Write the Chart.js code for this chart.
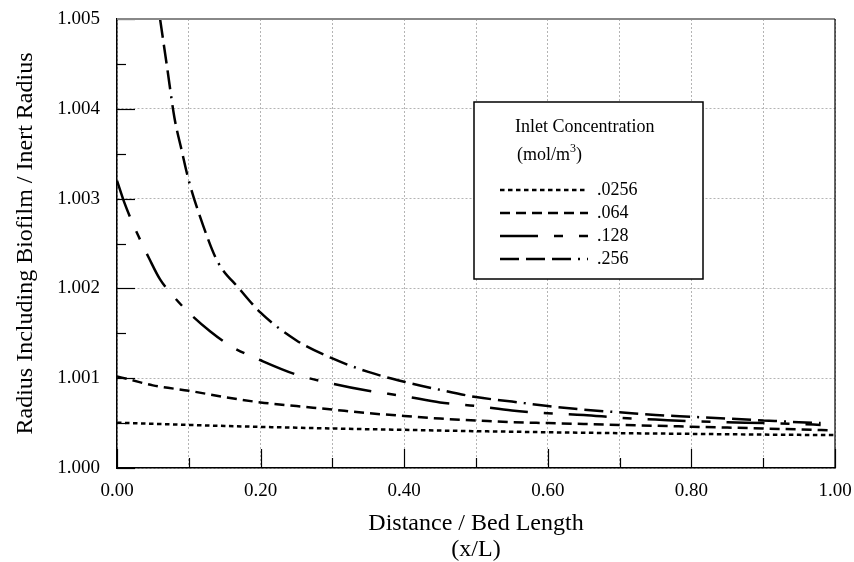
<!DOCTYPE html>
<html>
<head>
<meta charset="utf-8">
<script src="https://cdn.jsdelivr.net/npm/chart.js@4.4.1/dist/chart.umd.min.js"></script>
<style>
  html, body { margin: 0; padding: 0; background: #fff; }
  canvas { display: block; }
</style>
</head>
<body>
<canvas id="chart" width="854" height="562"></canvas>
<script>
// --- DATA ---
const seriesLabels = ['.0256', '.064', '.128', '.256'];

const x0256 = [0, 0.05, 0.1, 0.15, 0.2, 0.25, 0.3, 0.35, 0.4, 0.45, 0.5, 0.55, 0.6, 0.65, 0.7, 0.75, 0.8, 0.85, 0.9, 0.95, 1.0];
const y0256 = [1.000505, 1.000492, 1.00048, 1.000468, 1.000458, 1.000449, 1.00044, 1.000432, 1.000425, 1.000417, 1.00041, 1.000404, 1.000398, 1.000393, 1.000388, 1.000384, 1.00038, 1.000376, 1.000372, 1.000369, 1.000366];

const x064 = [0, 0.02, 0.05, 0.1, 0.15, 0.2, 0.25, 0.3, 0.35, 0.4, 0.45, 0.5, 0.55, 0.6, 0.65, 0.7, 0.75, 0.8, 0.85, 0.9, 0.95, 0.99];
const y064 = [1.00102, 1.00098, 1.00092, 1.00086, 1.00079, 1.00073, 1.00069, 1.00065, 1.00061, 1.00058, 1.00055, 1.00053, 1.00051, 1.0005, 1.00049, 1.00048, 1.00047, 1.00046, 1.00045, 1.00044, 1.00043, 1.00042];

const x128 = [0, 0.01, 0.02, 0.03, 0.045, 0.06, 0.08, 0.1, 0.13, 0.16, 0.2, 0.25, 0.3, 0.35, 0.4, 0.45, 0.5, 0.55, 0.6, 0.65, 0.7, 0.75, 0.8, 0.85, 0.9, 0.95, 0.98];
const y128 = [1.0032, 1.00296, 1.00276, 1.00258, 1.00233, 1.0021, 1.0019, 1.00173, 1.00152, 1.00135, 1.0012, 1.00104, 1.00094, 1.00086, 1.0008, 1.00073, 1.00069, 1.00064, 1.00061, 1.00059, 1.00056, 1.00054, 1.00052, 1.00051, 1.0005, 1.00049, 1.00048];

const x256 = [0.06, 0.07, 0.08, 0.09, 0.1, 0.12, 0.14, 0.17, 0.2, 0.25, 0.3, 0.35, 0.4, 0.45, 0.5, 0.55, 0.6, 0.65, 0.7, 0.75, 0.8, 0.85, 0.9, 0.95, 0.98];
const y256 = [1.005, 1.00445, 1.0039, 1.00354, 1.0032, 1.0027, 1.0023, 1.002, 1.00173, 1.00142, 1.00122, 1.00107, 1.00096, 1.00087, 1.00079, 1.00074, 1.00069, 1.00065, 1.00062, 1.00059, 1.00057, 1.00055, 1.00053, 1.00051, 1.0005];

const xTickLabels = ['0.00', '0.20', '0.40', '0.60', '0.80', '1.00'];
const yTickLabels = ['1.000', '1.001', '1.002', '1.003', '1.004', '1.005'];

const FONT = "'Liberation Serif', 'Times New Roman', serif";
const pts = (xs, ys) => xs.map((x, i) => ({ x, y: ys[i] }));

const mkSet = (label, data, dash) => ({
    label, data, borderColor: '#000', borderWidth: 2.5, borderDash: dash,
    pointRadius: 0, fill: false, cubicInterpolationMode: 'monotone'
});

// --- inward ticks + top/right frame ---
const framePlugin = {
    id: 'frame',
    afterDatasetsDraw(chart) {
        const { ctx, chartArea: a, scales: { x, y } } = chart;
        ctx.save();
        ctx.strokeStyle = '#000';
        ctx.lineWidth = 1.2;
        for (let i = 0; i <= 10; i++) {
            const px = Math.round(x.getPixelForValue(i / 10)) + 0.5;
            const len = i % 2 === 0 ? 19 : 10;
            ctx.beginPath(); ctx.moveTo(px, a.bottom); ctx.lineTo(px, a.bottom - len); ctx.stroke();
        }
        for (let i = 0; i <= 10; i++) {
            const py = Math.round(y.getPixelForValue(1 + i * 0.0005)) + 0.5;
            const len = i % 2 === 0 ? 18 : 9;
            ctx.beginPath(); ctx.moveTo(a.left, py); ctx.lineTo(a.left + len, py); ctx.stroke();
        }
        ctx.strokeStyle = '#888';
        ctx.lineWidth = 2;
        ctx.beginPath(); ctx.moveTo(a.left, a.top); ctx.lineTo(a.right, a.top); ctx.stroke();
        ctx.strokeStyle = '#000';
        ctx.lineWidth = 1.2;
        ctx.beginPath(); ctx.moveTo(a.right, a.top); ctx.lineTo(a.right, a.bottom); ctx.stroke();
        ctx.restore();
    }
};

// --- boxed legend inside the plot ---
const legendPlugin = {
    id: 'boxLegend',
    afterDraw(chart) {
        const { ctx, chartArea: a } = chart;
        const bx = a.left + 357, by = a.top + 83, bw = 229, bh = 177;
        ctx.save();
        ctx.fillStyle = '#fff';
        ctx.fillRect(bx, by, bw, bh);
        ctx.strokeStyle = '#000';
        ctx.lineWidth = 1.5;
        ctx.strokeRect(bx, by, bw, bh);

        ctx.fillStyle = '#000';
        ctx.textBaseline = 'alphabetic';
        ctx.font = `18px ${FONT}`;
        ctx.fillText('Inlet Concentration', bx + 41, by + 30);
        const t1 = '(mol/m';
        ctx.fillText(t1, bx + 43, by + 58);
        let w = ctx.measureText(t1).width;
        ctx.font = `12px ${FONT}`;
        ctx.fillText('3', bx + 43 + w, by + 50);
        const w3 = ctx.measureText('3').width;
        ctx.font = `18px ${FONT}`;
        ctx.fillText(')', bx + 43 + w + w3, by + 58);

        ctx.textBaseline = 'middle';
        chart.data.datasets.forEach((ds, i) => {
            const ly = by + 88 + i * 23;
            ctx.setLineDash(ds.borderDash);
            ctx.lineWidth = ds.borderWidth;
            ctx.beginPath(); ctx.moveTo(bx + 26, ly); ctx.lineTo(bx + 114, ly); ctx.stroke();
            ctx.setLineDash([]);
            ctx.fillText(ds.label, bx + 123, ly);
        });
        ctx.restore();
    }
};

new Chart(document.getElementById('chart').getContext('2d'), {
    type: 'line',
    data: {
        datasets: [
            mkSet(seriesLabels[0], pts(x0256, y0256), [4.5, 3.5]),
            mkSet(seriesLabels[1], pts(x064, y064), [10, 6]),
            mkSet(seriesLabels[2], pts(x128, y128), [38, 16, 9, 16]),
            mkSet(seriesLabels[3], pts(x256, y256), [19, 7, 19, 7, 19, 7, 2, 7])
        ]
    },
    options: {
        responsive: false,
        devicePixelRatio: 1,
        animation: false,
        layout: { padding: { top: 19, right: 19, left: 0, bottom: 0 } },
        plugins: { legend: { display: false }, tooltip: { enabled: false } },
        scales: {
            x: {
                type: 'linear', min: 0, max: 1,
                // fixed axis height; drop the label overflow padding so the plot box is exact
                afterFit: s => { s.height = 94; s.paddingLeft = 0; s.paddingRight = 0; },
                grid: { color: '#b4b4b4', lineWidth: 1, drawTicks: false },
                border: { display: true, color: '#000', width: 1.5, dash: [2, 2] },
                ticks: {
                    stepSize: 0.1, autoSkip: false, maxRotation: 0, padding: 12, color: '#000',
                    font: { family: FONT, size: 19 },
                    callback: (v, i) => (i % 2 === 0 ? xTickLabels[i / 2] : '')
                },
                title: {
                    display: true, text: ['Distance / Bed Length', '(x/L)'], color: '#000',
                    font: { family: FONT, size: 24, lineHeight: 1.05 }, padding: { top: 0, bottom: 0 }
                }
            },
            y: {
                type: 'linear', min: 1.0, max: 1.005,
                afterFit: s => { s.width = 117; s.paddingTop = 0; s.paddingBottom = 0; },
                grid: { color: '#b4b4b4', lineWidth: 1, drawTicks: false },
                border: { display: true, color: '#000', width: 1.5, dash: [2, 2] },
                ticks: {
                    stepSize: 0.001, padding: 17, color: '#000',
                    font: { family: FONT, size: 19 },
                    callback: (v) => yTickLabels[Math.round((v - 1) * 1000)]
                },
                title: {
                    display: true, text: 'Radius Including Biofilm / Inert Radius', color: '#000',
                    font: { family: FONT, size: 24, lineHeight: 1.05 }, padding: { top: 13, bottom: 0 }
                }
            }
        }
    },
    plugins: [framePlugin, legendPlugin]
});
</script>
</body>
</html>
